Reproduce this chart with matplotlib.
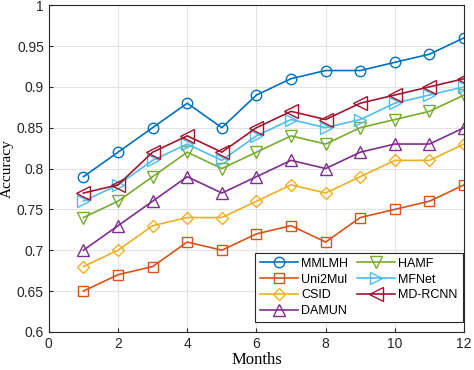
import matplotlib.pyplot as plt
import numpy as np

months = np.arange(1, 13)

mmlmh = [0.79, 0.82, 0.85, 0.88, 0.85, 0.89, 0.91, 0.92, 0.92, 0.93, 0.94, 0.96]
uni2mul = [0.65, 0.67, 0.68, 0.71, 0.70, 0.72, 0.73, 0.71, 0.74, 0.75, 0.76, 0.78]
csid = [0.68, 0.70, 0.73, 0.74, 0.74, 0.76, 0.78, 0.77, 0.79, 0.81, 0.81, 0.83]
damun = [0.70, 0.73, 0.76, 0.79, 0.77, 0.79, 0.81, 0.80, 0.82, 0.83, 0.83, 0.85]
hamf = [0.74, 0.76, 0.79, 0.82, 0.80, 0.82, 0.84, 0.83, 0.85, 0.86, 0.87, 0.89]
mfnet = [0.76, 0.78, 0.81, 0.83, 0.81, 0.84, 0.86, 0.85, 0.86, 0.88, 0.89, 0.90]
mdrcnn = [0.77, 0.78, 0.82, 0.84, 0.82, 0.85, 0.87, 0.86, 0.88, 0.89, 0.90, 0.91]

names = ["MMLMH", "Uni2Mul", "CSID", "DAMUN", "HAMF", "MFNet", "MD-RCNN"]
series = [mmlmh, uni2mul, csid, damun, hamf, mfnet, mdrcnn]
colors = ["#0072BD", "#D95319", "#EDB120", "#7E2F8E", "#77AC30", "#4DBEEE", "#A2142F"]
markers = ["o", "s", "D", "^", "v", ">", "<"]
msizes = [7.5, 6.5, 6, 8.5, 8.5, 8.5, 9.5]

plt.rcParams['font.family'] = ['Liberation Sans', 'DejaVu Sans']

fig = plt.figure(figsize=(4.74, 3.7), dpi=100)
ax = fig.add_axes([0.103, 0.103, 0.876, 0.883])

for name, vals, c, m, ms in zip(names, series, colors, markers, msizes):
    ax.plot(months, vals, color=c, marker=m, markersize=ms,
            markerfacecolor="none", markeredgewidth=1.0, linewidth=1.2, label=name)

ax.set_xlim(0, 12)
ax.set_ylim(0.6, 1.0)
ax.set_xticks(range(0, 13, 2))
yt = np.arange(0.6, 1.001, 0.05)
ax.set_yticks(yt)
ax.set_yticklabels([f"{v:g}" for v in np.round(yt, 2)])
ax.grid(True, color="#e3e3e3", linewidth=0.8)
ax.tick_params(direction="in", labelsize=10, colors="#262626", length=3)
for s in ax.spines.values():
    s.set_color("#262626")
    s.set_linewidth(0.8)

ax.set_xlabel("Months", family="Liberation Serif", fontsize=12, labelpad=1)
ax.set_ylabel("Accuracy", family="Liberation Serif", fontsize=11, labelpad=2)

leg = ax.legend(ncol=2, loc="lower right", bbox_to_anchor=(0.997, 0.03),
                fontsize=9, handlelength=3.0, columnspacing=0.7,
                handletextpad=0.3, labelspacing=0.3, borderpad=0.4,
                fancybox=False, framealpha=1, borderaxespad=0)
leg.get_frame().set_edgecolor("#262626")
leg.get_frame().set_linewidth(0.8)

fig.savefig("out.png", dpi=100)
